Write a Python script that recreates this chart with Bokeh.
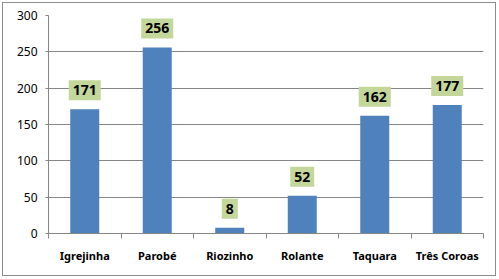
from bokeh.plotting import figure
from bokeh.models import ColumnDataSource, Label, FixedTicker, Range1d
from bokeh.embed import file_html
from bokeh.resources import INLINE

categories = ["Igrejinha", "Parobé", "Riozinho", "Rolante", "Taquara", "Três Coroas"]
values = [171, 256, 8, 52, 162, 177]
y_ticks = [0, 50, 100, 150, 200, 250, 300]

xs = [i + 0.5 for i in range(len(categories))]
src = ColumnDataSource(dict(x=xs, top=values))

p = figure(width=494, height=274, output_backend="svg", toolbar_location=None,
           x_range=Range1d(0, len(categories)), y_range=Range1d(0, 300),
           min_border_left=45, min_border_right=14, min_border_top=12, min_border_bottom=44)
p.margin = (2, 2, 2, 2)
p.styles = {"border": "1px solid #8c8c8c"}
p.outline_line_color = None
p.background_fill_color = "white"
p.border_fill_color = "white"

p.vbar(x="x", top="top", width=0.4, source=src, fill_color="#4F81BD", line_color=None)

for x, v in zip(xs, values):
    p.add_layout(Label(x=x, y=v, text=str(v), text_align="center",
                       text_baseline="bottom", y_offset=9, text_font="Noto Sans",
                       text_font_style="bold", text_font_size="14px", text_color="black",
                       background_fill_color="#C4D79B",
                       padding=dict(left=4, right=4, top=5, bottom=5)))

# x axis
p.xaxis.ticker = FixedTicker(ticks=xs, minor_ticks=list(range(len(categories) + 1)))
p.xaxis.major_label_overrides = {x: c for x, c in zip(xs, categories)}
p.xaxis.major_tick_line_color = None
p.xaxis.major_tick_out = 0
p.xaxis.major_tick_in = 0
p.xaxis.minor_tick_line_color = "#868686"
p.xaxis.minor_tick_out = 5
p.xaxis.minor_tick_in = 0
p.xaxis.axis_line_color = "#868686"
p.xaxis.major_label_text_font = "Noto Sans"
p.xaxis.major_label_text_font_style = "bold"
p.xaxis.major_label_text_font_size = "11px"
p.xaxis.major_label_text_color = "black"
p.xaxis.major_label_standoff = 9

# y axis
p.yaxis.ticker = FixedTicker(ticks=y_ticks)
p.yaxis.major_tick_out = 3
p.yaxis.major_tick_in = 0
p.yaxis.minor_tick_line_color = None
p.yaxis.major_tick_line_color = "#868686"
p.yaxis.axis_line_color = "#868686"
p.yaxis.major_label_text_font = "Noto Sans"
p.yaxis.major_label_text_font_size = "12px"
p.yaxis.major_label_text_color = "black"
p.yaxis.major_label_standoff = 8

p.xgrid.grid_line_color = None
p.ygrid.ticker = FixedTicker(ticks=y_ticks)
p.ygrid.grid_line_color = "#868686"

open("out.html", "w").write(file_html(p, INLINE))
